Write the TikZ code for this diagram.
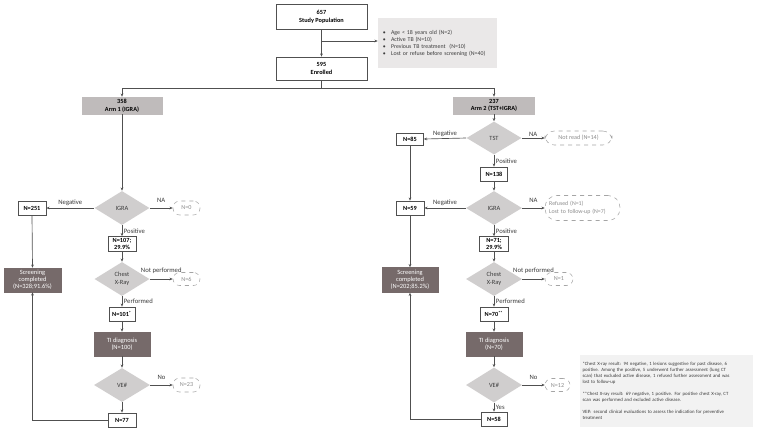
\documentclass[tikz,border=0pt]{standalone}
\usepackage{fontspec}
\setmainfont{Carlito}
\usetikzlibrary{shapes.geometric,arrows.meta}
\definecolor{linec}{RGB}{80,80,80}
\definecolor{armc}{RGB}{191,187,187}
\definecolor{diac}{RGB}{208,206,206}
\definecolor{darkc}{RGB}{118,106,106}
\definecolor{exclc}{RGB}{234,232,232}
\definecolor{notec}{RGB}{242,242,242}
\definecolor{dashc}{RGB}{165,165,165}
\definecolor{dtxt}{RGB}{140,140,140}
\definecolor{txtc}{RGB}{60,60,60}
\newcommand\fbx{\fontsize{4.7}{5.8}\selectfont\bfseries}
\newcommand\flab{\fontsize{5}{6}\selectfont}
\newcommand\fdbx{\fontsize{4.6}{6}\selectfont}
\newcommand\fdbxs{\fontsize{4.4}{6}\selectfont}
\newcommand\fdia{\fontsize{4.8}{5.8}\selectfont}
\newcommand\fwhite{\fontsize{4.8}{5.4}\selectfont}
\newcommand\fexcl{\fontsize{4.4}{5.3}\selectfont}
\newcommand\fnote{\fontsize{3.6}{4.5}\selectfont}
\tikzset{
  sz/.style 2 args={minimum width=#1*0.75pt, minimum height=#2*0.75pt},
  box/.style={draw=linec, fill=white, line width=0.5pt, inner sep=0pt, align=center, font=\fbx, text=black},
  armbox/.style={fill=armc, draw=armc, inner sep=0pt, align=center, font=\fbx, text=black},
  dia/.style={diamond, fill=diac, draw=none, inner sep=0pt, align=center, font=\fdia, text=txtc},
  darkbox/.style={fill=darkc, draw=darkc, inner sep=0pt, align=center, font=\fwhite, text=white},
  dbox/.style={draw=dashc, dashed, line width=0.4pt, fill=white, rounded corners=5pt, inner sep=0pt, align=center, font=\fdbx, text=dtxt},
  lab/.style={font=\flab, text=txtc, inner sep=1.2pt},
  uplab/.style={lab, above, yshift=2.5pt},
  arr/.style={draw=linec, line width=0.5pt, -{Stealth[length=2.4pt,width=2pt]}},
  ln/.style={draw=linec, line width=0.5pt},
}
\begin{document}
\begin{tikzpicture}[x=0.75pt,y=-0.75pt]
\fill[white] (0,0) rectangle (759,430);
\useasboundingbox (0,0) rectangle (759,430);

% top
\node[box, sz={91}{25}] (pop) at (321.5,16.5) {657\\Study Population};
\node[box, sz={91}{23}] (enr) at (321.5,68.5) {595\\Enrolled};
\node[fill=exclc, sz={119}{50}, text width=82pt, align=left, inner sep=0pt, font=\fexcl, text=txtc] (excl) at (437.5,43)
 {\textbullet\hspace{4pt}Age < 18 years old (N=2)\\
  \textbullet\hspace{4pt}Active TB (N=10)\\
  \textbullet\hspace{4pt}Previous TB treatment\ \ (N=10)\\
  \textbullet\hspace{4pt}Lost or refuse before screening (N=40)};
\draw[arr] (pop.south) -- (enr.north);
\coordinate (br) at (321.5,41);
\draw[arr] (br) -- (br -| excl.west);
\coordinate (sp) at (321.5,88);
\draw[ln] (enr.south) -- (sp);

\node[armbox, sz={80}{17}] (arm1) at (122,105.5) {358\\Arm 1 (IGRA)};
\node[armbox, sz={81}{17}] (arm2) at (494,105.5) {237\\Arm 2 (TST+IGRA)};
\draw[arr] (sp) -| (arm1.north);
\draw[arr] (sp) -| (arm2.north);

% Arm 1
\node[dia, sz={55}{34}] (igra1) at (122,208) {IGRA};
\node[box, sz={28}{14}] (n251) at (32,208) {N=251};
\node[dbox, sz={27}{14}] (n0) at (186.5,208) {N=0};
\node[box, sz={28}{15}] (n107) at (122,244) {N=107;\\29.9\%};
\node[dia, sz={55}{34}] (cxr1) at (122,279) {Chest\\X-Ray};
\node[dbox, sz={27}{13}] (n6) at (186.5,279) {N=6};
\node[darkbox, sz={57}{24}] (scr1) at (32.5,280) {Screening\\completed\\(N=328;91.6\%)};
\node[box, sz={26}{14}] (n101) at (122,314) {N=101\textsuperscript{*}};
\node[darkbox, sz={56}{24}] (ti1) at (122,344) {TI diagnosis\\(N=100)};
\node[dia, sz={56}{34}] (ve1) at (122,385) {VE\#};
\node[dbox, sz={27}{14}] (n23) at (186.5,385) {N=23};
\node[box, sz={28}{14}] (n77) at (122,420) {N=77};

\draw[arr] (arm1.south) -- (igra1.north);
\draw[arr] (igra1.west) -- node[lab,above]{Negative} (n251.east);
\draw[arr] (igra1.east) -- node[uplab]{NA} (n0.west);
\draw[arr] (igra1.south) -- node[lab,right]{Positive} (n107.north);
\draw[arr] (n107.south) -- (cxr1.north);
\draw[arr] (cxr1.east) -- node[uplab]{Not performed} (n6.west);
\draw[arr] (cxr1.south) -- node[lab,right]{Performed} (n101.north);
\draw[arr] (n101.south) -- (ti1.north);
\draw[arr] (ti1.south) -- (ve1.north);
\draw[arr] (ve1.east) -- node[uplab]{No} (n23.west);
\draw[arr] (ve1.south) -- (n77.north);
\draw[arr] (n251.south) -- (scr1.north);
\draw[arr] (n77.west) -| (scr1.south);

% Arm 2
\node[dia, sz={55}{33}] (tst) at (494,138) {TST};
\node[box, sz={27}{12}] (n85) at (410,139) {N=85};
\node[dbox, sz={67}{14}, rounded corners=7pt] (nread) at (578.5,138) {Not read (N=14)};
\node[box, sz={27}{14}] (n138) at (494,174) {N=138};
\node[dia, sz={56}{34}] (igra2) at (494,208) {IGRA};
\node[box, sz={28}{14}] (n59) at (410,208) {N=59};
\node[dbox, sz={75}{25}, rounded corners=9pt, text width=50pt, align=left, font=\fdbxs] (refu) at (582.5,208) {Refused (N=1)\\Lost to follow-up (N=7)};
\node[box, sz={29}{15}] (n71) at (494,244) {N=71;\\29.9\%};
\node[dia, sz={56}{34}] (cxr2) at (494,279) {Chest\\X-Ray};
\node[dbox, sz={28}{13}] (n1) at (559,279) {N=1};
\node[darkbox, sz={56}{25}] (scr2) at (410,280) {Screening\\completed\\(N=202;85.2\%)};
\node[box, sz={28}{14}] (n70) at (494,314) {N=70\textsuperscript{**}};
\node[darkbox, sz={56}{24}] (ti2) at (494,344) {TI diagnosis\\(N=70)};
\node[dia, sz={56}{35}] (ve2) at (494,385) {VE\#};
\node[dbox, sz={25}{13}] (n12) at (557.5,385) {N=12};
\node[box, sz={26}{14}] (n58) at (494,419) {N=58};

\draw[arr] (arm2.south) -- (tst.north);
\draw[arr] (tst.west) -- node[lab,above]{Negative} (n85.east);
\draw[arr] (tst.east) -- node[lab,above]{NA} (nread.west);
\draw[arr] (tst.south) -- node[lab,right]{Positive} (n138.north);
\draw[arr] (n138.south) -- (igra2.north);
\draw[arr] (igra2.west) -- node[lab,above]{Negative} (n59.east);
\draw[arr] (igra2.east) -- node[uplab]{NA} (refu.west);
\draw[arr] (igra2.south) -- node[lab,right]{Positive} (n71.north);
\draw[arr] (n71.south) -- (cxr2.north);
\draw[arr] (cxr2.east) -- node[uplab]{Not performed} (n1.west);
\draw[arr] (cxr2.south) -- node[lab,right]{Performed} (n70.north);
\draw[arr] (n70.south) -- (ti2.north);
\draw[arr] (ti2.south) -- (ve2.north);
\draw[arr] (ve2.east) -- node[uplab]{No} (n12.west);
\draw[arr] (ve2.south) -- node[lab,right]{Yes} (n58.north);
\draw[arr] (n85.south) -- (n59.north);
\draw[arr] (n59.south) -- (scr2.north);
\draw[arr] (n58.west) -| (scr2.south);

% footnote
\node[fill=notec, sz={173}{72}, text width=126pt, align=left, inner sep=0pt, font=\fnote, text=txtc] (note) at (666.5,391)
 {*Chest X-ray result: 94 negative, 1 lesions suggestive for past disease, 6\\
  positive. Among the positive, 5 underwent further assessment (lung CT\\
  scan) that excluded active disease, 1 refused further assessment and was\\
  lost to follow-up\\[4.5pt]
  **Chest X-ray result: 69 negative, 1 positive. For positive chest X-ray, CT\\
  scan was performed and excluded active disease.\\[4.5pt]
  VE\#: second clinical evaluations to assess the indication for preventive\\
  treatment};
\end{tikzpicture}
\end{document}
